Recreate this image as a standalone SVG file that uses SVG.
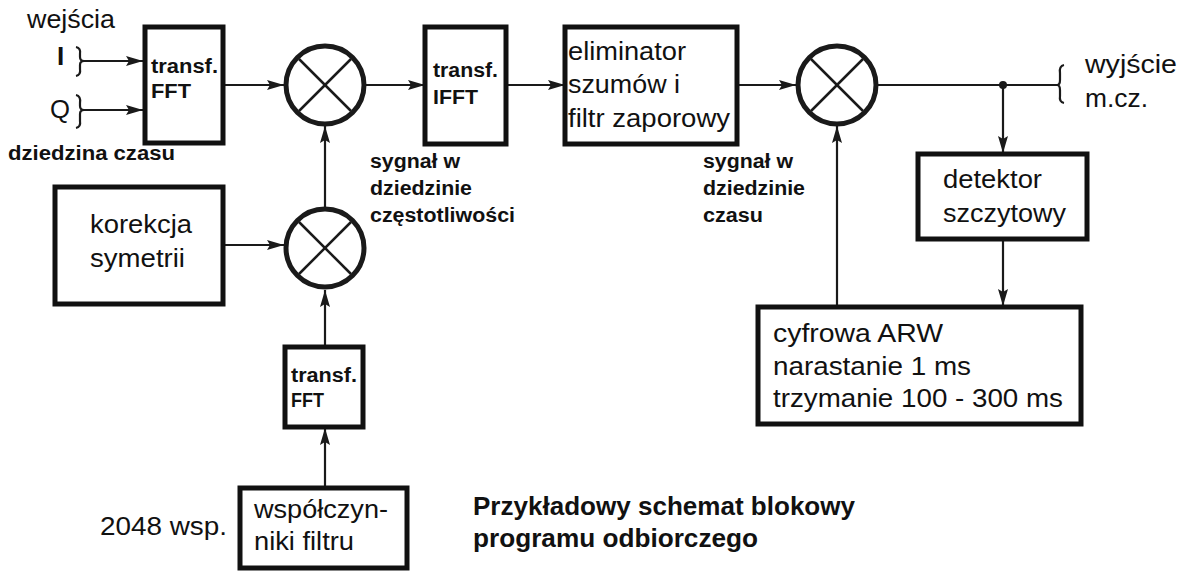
<svg xmlns="http://www.w3.org/2000/svg" width="1183" height="572" viewBox="0 0 1183 572">
<defs>
<style>
.box{fill:#fff;stroke:#111;stroke-width:5}
.ring{fill:#fff;stroke:#1a1a1a;stroke-width:5}
.x{stroke:#1a1a1a;stroke-width:2.5}
.ln{fill:none;stroke:#1a1a1a;stroke-width:2.2}
.br{fill:none;stroke:#1a1a1a;stroke-width:2.2}
.t{font-family:"Liberation Sans",Arial,sans-serif;font-size:26px;fill:#111}
.b{font-family:"Liberation Sans",Arial,sans-serif;font-size:20px;font-weight:bold;fill:#111}
.ttl{font-family:"Liberation Sans",Arial,sans-serif;font-size:26px;font-weight:bold;fill:#111}
</style>
<marker id="arr" markerUnits="userSpaceOnUse" markerWidth="18" markerHeight="11" refX="17" refY="5" orient="auto">
<path d="M0,0 L17,5 L0,10 L3,5 z" fill="#1a1a1a"/>
</marker>
<g id="mix">
<circle r="39" class="ring"/>
<line x1="-26" y1="-26" x2="26" y2="26" class="x"/>
<line x1="-26" y1="26" x2="26" y2="-26" class="x"/>
</g>
</defs>
<rect width="1183" height="572" fill="#fff"/>

<g id="connectors">
<line x1="83" y1="61" x2="143" y2="61" class="ln" marker-end="url(#arr)"/>
<line x1="83" y1="110" x2="143" y2="110" class="ln" marker-end="url(#arr)"/>
<line x1="223" y1="85" x2="284" y2="85" class="ln" marker-end="url(#arr)"/>
<line x1="366" y1="85" x2="425" y2="85" class="ln" marker-end="url(#arr)"/>
<line x1="506" y1="85" x2="565" y2="85" class="ln" marker-end="url(#arr)"/>
<line x1="737" y1="85" x2="796" y2="85" class="ln" marker-end="url(#arr)"/>
<line x1="878" y1="85" x2="1058" y2="85" class="ln"/>
<circle cx="1003" cy="85" r="4" fill="#1a1a1a"/>
<line x1="1003" y1="85" x2="1003" y2="153" class="ln" marker-end="url(#arr)"/>
<line x1="1003" y1="239" x2="1003" y2="306" class="ln" marker-end="url(#arr)"/>
<line x1="837" y1="307" x2="837" y2="126" class="ln" marker-end="url(#arr)"/>
<line x1="223" y1="245" x2="284" y2="245" class="ln" marker-end="url(#arr)"/>
<line x1="325" y1="207" x2="325" y2="126" class="ln" marker-end="url(#arr)"/>
<line x1="325" y1="347" x2="325" y2="290" class="ln" marker-end="url(#arr)"/>
<line x1="325" y1="488" x2="325" y2="428" class="ln" marker-end="url(#arr)"/>
<path class="br" d="M76,47 Q81,48 80,54 L80,57 Q80,61 84,61 Q80,61 80,65 L80,69 Q81,75 76,76"/>
<path class="br" d="M76,95 Q81,96 80,103 L80,106 Q80,110 84,110 Q80,110 80,114 L80,121 Q81,127 76,128"/>
<path class="br" d="M1064,65 Q1059,66 1060,73 L1060,80 Q1060,85 1057,85 Q1060,85 1060,90 L1060,96 Q1059,102 1064,103"/>
</g>

<g id="inputs">
<text class="t" x="27" y="28" textLength="88" lengthAdjust="spacingAndGlyphs">wejścia</text>
<text class="t" x="57" y="65" font-weight="bold" font-size="27">I</text>
<text class="t" x="50" y="118" font-size="27" textLength="20" lengthAdjust="spacingAndGlyphs">Q</text>
<text class="b" x="8" y="160" textLength="167" lengthAdjust="spacingAndGlyphs">dziedzina czasu</text>
</g>

<g id="fft1">
<rect class="box" x="145" y="27" width="78" height="116"/>
<text class="b" x="151" y="73" textLength="67" lengthAdjust="spacingAndGlyphs">transf.</text>
<text class="b" x="151" y="98" textLength="40" lengthAdjust="spacingAndGlyphs">FFT</text>
</g>

<g id="mixer1"><use href="#mix" x="325" y="85"/></g>

<g id="ifft">
<rect class="box" x="425" y="27" width="81" height="117"/>
<text class="b" x="433" y="77" textLength="65" lengthAdjust="spacingAndGlyphs">transf.</text>
<text class="b" x="433" y="104" textLength="45" lengthAdjust="spacingAndGlyphs">IFFT</text>
</g>

<g id="label-freq">
<text class="b" x="370" y="168" textLength="90" lengthAdjust="spacingAndGlyphs">sygnał w</text>
<text class="b" x="370" y="195" textLength="102" lengthAdjust="spacingAndGlyphs">dziedzinie</text>
<text class="b" x="370" y="222" textLength="145" lengthAdjust="spacingAndGlyphs">częstotliwości</text>
</g>

<g id="eliminator">
<rect class="box" x="565" y="27" width="172" height="117"/>
<text class="t" x="568" y="60" textLength="118" lengthAdjust="spacingAndGlyphs">eliminator</text>
<text class="t" x="568" y="93" textLength="112" lengthAdjust="spacingAndGlyphs">szumów i</text>
<text class="t" x="568" y="127" textLength="162" lengthAdjust="spacingAndGlyphs">filtr zaporowy</text>
</g>

<g id="label-time">
<text class="b" x="703" y="168" textLength="90" lengthAdjust="spacingAndGlyphs">sygnał w</text>
<text class="b" x="703" y="195" textLength="102" lengthAdjust="spacingAndGlyphs">dziedzinie</text>
<text class="b" x="703" y="222" textLength="60" lengthAdjust="spacingAndGlyphs">czasu</text>
</g>

<g id="mixer2"><use href="#mix" x="837" y="85"/></g>

<g id="output">
<text class="t" x="1085" y="73" textLength="92" lengthAdjust="spacingAndGlyphs">wyjście</text>
<text class="t" x="1085" y="107" textLength="63" lengthAdjust="spacingAndGlyphs">m.cz.</text>
</g>

<g id="detector">
<rect class="box" x="918" y="154" width="169" height="85"/>
<text class="t" x="943" y="188" textLength="99" lengthAdjust="spacingAndGlyphs">detektor</text>
<text class="t" x="943" y="222" textLength="123" lengthAdjust="spacingAndGlyphs">szczytowy</text>
</g>

<g id="arw">
<rect class="box" x="758" y="307" width="323" height="117"/>
<text class="t" x="773" y="342" textLength="170" lengthAdjust="spacingAndGlyphs">cyfrowa ARW</text>
<text class="t" x="773" y="375" textLength="198" lengthAdjust="spacingAndGlyphs">narastanie 1 ms</text>
<text class="t" x="773" y="407" textLength="290" lengthAdjust="spacingAndGlyphs">trzymanie 100 - 300 ms</text>
</g>

<g id="korekcja">
<rect class="box" x="55" y="187" width="168" height="117"/>
<text class="t" x="90" y="233" textLength="102" lengthAdjust="spacingAndGlyphs">korekcja</text>
<text class="t" x="90" y="267" textLength="95" lengthAdjust="spacingAndGlyphs">symetrii</text>
</g>

<g id="mixer3"><use href="#mix" x="325" y="248"/></g>

<g id="fft2">
<rect class="box" x="285" y="347" width="78" height="80"/>
<text class="b" x="291" y="382" textLength="66" lengthAdjust="spacingAndGlyphs">transf.</text>
<text class="b" x="291" y="407" textLength="33" lengthAdjust="spacingAndGlyphs">FFT</text>
</g>

<g id="coeffs">
<rect class="box" x="240" y="488" width="167" height="80"/>
<text class="t" x="254" y="518" textLength="134" lengthAdjust="spacingAndGlyphs">współczyn-</text>
<text class="t" x="254" y="550" textLength="100" lengthAdjust="spacingAndGlyphs">niki filtru</text>
<text class="t" x="100" y="535" textLength="127" lengthAdjust="spacingAndGlyphs">2048 wsp.</text>
</g>

<g id="title">
<text class="ttl" x="473" y="515" textLength="382" lengthAdjust="spacingAndGlyphs">Przykładowy schemat blokowy</text>
<text class="ttl" x="473" y="547" textLength="285" lengthAdjust="spacingAndGlyphs">programu odbiorczego</text>
</g>
</svg>
